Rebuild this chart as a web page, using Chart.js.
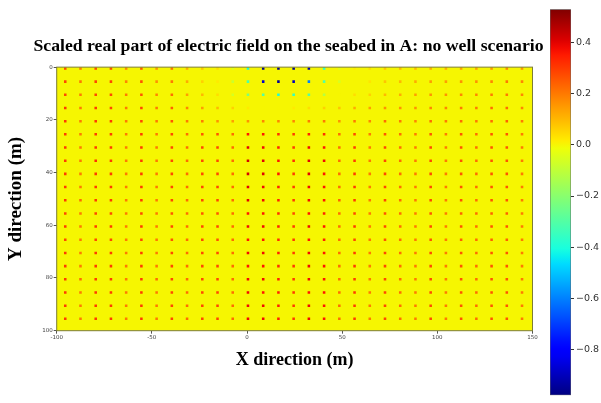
<!DOCTYPE html>
<html><head><meta charset="utf-8">
<script src="https://cdn.jsdelivr.net/npm/chart.js@4.4.1/dist/chart.umd.min.js"></script>
<style>
html,body{margin:0;padding:0;background:#fff;width:601px;height:403px;overflow:hidden}
canvas{position:absolute;left:0;top:0}
</style></head>
<body>
<canvas id="main" width="601" height="403"></canvas>
<canvas id="cbar" width="601" height="403"></canvas>
<script>
// ---------- data ----------
const TITLE = 'Scaled real part of electric field on the seabed in A: no well scenario';
const X_LABEL = 'X direction (m)';
const Y_LABEL = 'Y direction (m)';
const xCenters = [-96,-88,-80,-72,-64,-56,-48,-40,-32,-24,-16,-8,0,8,16,24,32,40,48,56,64,72,80,88,96,104,112,120,128,136,144];
const yCenters = [0,5,10,15,20,25,30,35,40,45,50,55,60,65,70,75,80,85,90,95];
const fieldRows = [
 [.28,.20,.28,.28,.18,.26,.16,.22,.12,.08,.04,-.05,-.42,-.95,-.96,-.95,-.92,-.38,-.04,.02,.04,.08,.10,.10,.12,.12,.14,.14,.16,.18,.16],
 [.28,.20,.28,.28,.18,.26,.16,.20,.12,.06,.02,-.08,-.32,-.88,-.95,-.90,-.60,-.30,-.06,.00,.03,.08,.10,.12,.14,.14,.16,.16,.18,.20,.18],
 [.28,.20,.28,.28,.20,.26,.18,.22,.14,.10,.04,-.06,-.22,-.30,-.40,-.36,-.30,-.12,.00,.04,.06,.10,.12,.14,.16,.16,.18,.18,.20,.20,.18],
 [.30,.20,.30,.28,.20,.28,.20,.24,.18,.14,.10,.06,.02,.00,.00,.02,.04,.06,.08,.12,.14,.16,.16,.16,.18,.18,.20,.20,.22,.22,.18],
 [.30,.20,.30,.30,.20,.28,.20,.26,.20,.20,.16,.14,.16,.18,.18,.18,.20,.20,.16,.20,.18,.22,.20,.18,.22,.20,.22,.20,.22,.24,.20],
 [.30,.20,.30,.30,.20,.30,.20,.28,.22,.26,.26,.22,.36,.36,.32,.30,.34,.32,.22,.28,.20,.26,.22,.20,.26,.20,.26,.22,.26,.26,.20],
 [.30,.20,.30,.30,.20,.30,.20,.28,.22,.28,.28,.22,.40,.38,.34,.30,.38,.36,.22,.30,.20,.28,.22,.20,.28,.20,.26,.22,.26,.26,.20],
 [.30,.20,.32,.30,.20,.30,.20,.28,.22,.28,.28,.22,.42,.40,.36,.32,.40,.38,.22,.30,.20,.28,.22,.20,.28,.20,.26,.22,.26,.26,.20],
 [.30,.20,.30,.30,.20,.30,.20,.28,.22,.28,.28,.22,.42,.40,.36,.30,.40,.36,.22,.30,.20,.28,.22,.20,.28,.20,.26,.22,.26,.26,.20],
 [.30,.20,.30,.30,.20,.30,.20,.28,.22,.28,.28,.22,.40,.38,.34,.30,.38,.36,.22,.30,.20,.28,.22,.20,.28,.20,.26,.22,.26,.26,.20],
 [.30,.22,.30,.30,.20,.30,.20,.28,.22,.28,.28,.22,.40,.38,.34,.30,.38,.36,.24,.30,.20,.28,.22,.20,.28,.20,.26,.22,.26,.26,.20],
 [.28,.20,.28,.28,.20,.28,.20,.26,.22,.26,.26,.22,.36,.36,.32,.28,.36,.34,.22,.28,.20,.26,.22,.20,.26,.20,.24,.22,.24,.24,.20],
 [.30,.20,.30,.30,.20,.30,.20,.28,.22,.28,.28,.22,.38,.38,.34,.30,.38,.36,.22,.30,.20,.28,.22,.20,.28,.20,.26,.22,.26,.26,.20],
 [.28,.20,.28,.28,.20,.28,.20,.26,.22,.28,.26,.22,.36,.36,.32,.30,.36,.34,.22,.28,.20,.26,.22,.20,.26,.20,.24,.22,.24,.24,.20],
 [.30,.20,.30,.30,.20,.30,.20,.28,.22,.28,.28,.22,.38,.38,.34,.30,.38,.36,.22,.30,.20,.28,.22,.20,.28,.20,.26,.22,.26,.26,.20],
 [.30,.20,.30,.30,.20,.30,.20,.28,.22,.28,.28,.22,.36,.36,.32,.30,.38,.36,.22,.30,.20,.28,.22,.20,.28,.20,.26,.22,.26,.26,.20],
 [.30,.22,.30,.30,.20,.30,.22,.28,.22,.28,.28,.22,.38,.38,.34,.30,.38,.36,.22,.30,.20,.28,.22,.20,.28,.20,.26,.22,.26,.26,.20],
 [.30,.20,.30,.30,.20,.30,.20,.28,.22,.28,.28,.22,.38,.36,.34,.30,.36,.36,.22,.30,.20,.28,.22,.20,.28,.20,.26,.22,.26,.26,.20],
 [.30,.20,.30,.30,.20,.30,.20,.28,.22,.28,.28,.22,.38,.38,.34,.30,.38,.36,.22,.30,.20,.28,.22,.20,.28,.20,.26,.22,.26,.26,.20],
 [.30,.20,.30,.30,.20,.30,.20,.28,.22,.28,.28,.22,.38,.38,.34,.30,.38,.36,.22,.30,.20,.28,.22,.20,.28,.20,.26,.22,.26,.26,.20]
];
const xTicks = [-100,-50,0,50,100,150];
const yTicks = [0,20,40,60,80,100];
const cbTicks = [0.4,0.2,0.0,-0.2,-0.4,-0.6,-0.8];
const cbMin = -0.977, cbMax = 0.528;

// ---------- jet colormap (matplotlib) ----------
const JR=[[0,0],[0.35,0],[0.66,1],[0.89,1],[1,0.5]];
const JG=[[0,0],[0.125,0],[0.375,1],[0.64,1],[0.91,0],[1,0]];
const JB=[[0,0.5],[0.11,1],[0.34,1],[0.65,0],[1,0]];
function seg(t,p){t=Math.max(0,Math.min(1,t));for(let i=1;i<p.length;i++){if(t<=p[i][0]){const a=p[i-1],b=p[i];return a[1]+(b[1]-a[1])*(t-a[0])/(b[0]-a[0]);}}return p[p.length-1][1];}
function jetCss(t){return 'rgb('+Math.round(255*seg(t,JR))+','+Math.round(255*seg(t,JG))+','+Math.round(255*seg(t,JB))+')';}
function valColor(v){return jetCss((v-cbMin)/(cbMax-cbMin));}

// ---------- build points ----------
const pts=[];
yCenters.forEach((yv,ri)=>{xCenters.forEach((xv,ci)=>{pts.push({x:xv+0.5,y:yv+0.5,v:fieldRows[ri][ci]});});});

const AXIS='#7d7d35';
const tickFont={family:'DejaVu Sans',size:5.5};
const titleFont={family:'Liberation Serif',size:17.7,weight:'bold'};

const bgPlugin={id:'bg',
 beforeDraw(ch){const a=ch.chartArea;const c=ch.ctx;c.save();c.fillStyle=valColor(0);c.fillRect(a.left,a.top,a.right-a.left,a.bottom-a.top);c.restore();},
 afterDatasetsDraw(ch){const a=ch.chartArea;const c=ch.ctx;c.save();c.strokeStyle=AXIS;c.lineWidth=1;c.strokeRect(a.left,a.top,a.right-a.left,a.bottom-a.top);c.restore();}
};

new Chart(document.getElementById('main'),{
 type:'scatter',
 data:{datasets:[{data:pts,pointStyle:'rect',pointRadius:1.8,borderWidth:0,
   backgroundColor:(c)=>c.raw?valColor(c.raw.v):'#000'}]},
 options:{responsive:false,animation:false,devicePixelRatio:1,
  layout:{padding:{left:0,right:24,top:0,bottom:0}},
  plugins:{legend:{display:false},tooltip:{enabled:false},
   title:{display:true,text:TITLE,font:titleFont,color:'#000',padding:{top:36,bottom:9.9}}},
  scales:{
   x:{type:'linear',min:-100,max:150,
    afterBuildTicks:s=>{s.ticks=xTicks.map(v=>({value:v}));},
    grid:{drawOnChartArea:false,drawTicks:true,tickLength:3,color:'#555'},
    border:{display:false},
    ticks:{font:tickFont,color:'#444',padding:1,maxRotation:0,autoSkip:false,callback:v=>String(v)},
    title:{display:true,text:X_LABEL,font:{family:'Liberation Serif',size:18,weight:'bold'},color:'#000',padding:{top:0,bottom:31.5}},
    afterFit:s=>{s.height=72.3;}},
   y:{type:'linear',reverse:true,min:0,max:100,
    afterBuildTicks:s=>{s.ticks=yTicks.map(v=>({value:v}));},
    grid:{drawOnChartArea:false,drawTicks:true,tickLength:3,color:'#555'},
    border:{display:false},
    ticks:{font:tickFont,color:'#444',padding:1,autoSkip:false,callback:v=>String(v)},
    title:{display:true,text:Y_LABEL,font:{family:'Liberation Serif',size:19,weight:'bold'},color:'#000',padding:{top:5,bottom:0}},
    afterFit:s=>{s.width=56.7;}},
   y2:{type:'linear',position:'right',display:true,grid:{display:false},border:{display:false},ticks:{display:false},
    afterFit:s=>{s.width=44.5;}}
  }},
 plugins:[bgPlugin]
});

new Chart(document.getElementById('cbar'),{
 type:'bar',
 data:{labels:[''],datasets:[{data:[[cbMin,cbMax]],
   backgroundColor:(c)=>{const ch=c.chart;if(!ch.chartArea)return '#888';const ys=ch.scales.y;
     const g=ch.ctx.createLinearGradient(0,ys.getPixelForValue(cbMin),0,ys.getPixelForValue(cbMax));
     for(let i=0;i<=50;i++){g.addColorStop(i/50,jetCss(i/50));}return g;},
   borderWidth:0.8,borderColor:'#666',borderSkipped:false,barPercentage:1,categoryPercentage:1}]},
 options:{responsive:false,animation:false,devicePixelRatio:1,
  layout:{padding:{left:550,right:0,top:9.3,bottom:5}},
  plugins:{legend:{display:false},tooltip:{enabled:false}},
  scales:{
   x:{display:false},
   y:{position:'right',min:cbMin,max:cbMax,
    afterBuildTicks:s=>{s.ticks=cbTicks.map(v=>({value:v}));},
    grid:{drawOnChartArea:false,drawTicks:true,tickLength:3,color:'#333'},
    border:{display:false},
    ticks:{font:{family:'DejaVu Sans',size:9.5},color:'#333',padding:2,autoSkip:false,
      callback:v=>{const s=Math.abs(v).toFixed(1);return v< -1e-9?'\u2212'+s:s;}},
    afterFit:s=>{s.width=30;}}
  }}
});
</script>
</body></html>
